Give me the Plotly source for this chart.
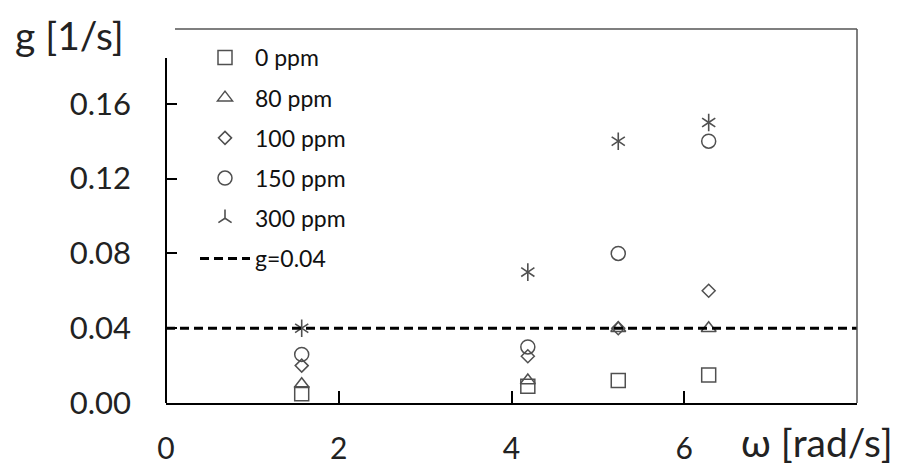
import plotly.graph_objects as go

# ---- data ----
OMEGA = [1.571, 4.189, 5.236, 6.283]          # rad/s
SERIES_NAMES = ["0 ppm", "80 ppm", "100 ppm", "150 ppm", "300 ppm"]
G_0 = [0.005, 0.009, 0.012, 0.015]
G_80 = [0.010, 0.012, 0.040, 0.040]
G_100 = [0.020, 0.025, 0.040, 0.060]
G_150 = [0.026, 0.030, 0.080, 0.140]
G_300 = [0.040, 0.070, 0.140, 0.150]
G_REF = 0.04
REF_NAME = "g=0.04"
X_TICKS = [0, 2, 4, 6]
Y_TICKS = [0.00, 0.04, 0.08, 0.12, 0.16]
Y_TICK_LABELS = ["0.00", "0.04", "0.08", "0.12", "0.16"]

X_RANGE = [0, 8]
Y_RANGE = [0, 0.2]

MCOL = "#505050"
FONT = "Lato"

fig = go.Figure()

styles = [
    ("square-open", 14, G_0),
    ("triangle-up-open", 13, G_80),
    ("diamond-open", 10, G_100),
    ("circle-open", 14, G_150),
]
for name, (sym, size, ys) in zip(SERIES_NAMES[:4], styles):
    fig.add_trace(go.Scatter(
        x=OMEGA, y=ys, mode="markers", name=name, legendgroup=name,
        marker=dict(symbol=sym, size=size, color=MCOL, line=dict(width=1.5, color=MCOL)),
        cliponaxis=False,
    ))

# 300 ppm: six-armed star built from two symbols
fig.add_trace(go.Scatter(
    x=OMEGA, y=G_300, mode="markers", name=SERIES_NAMES[4], legendgroup="300",
    marker=dict(symbol="y-up-open", size=11, color=MCOL, line=dict(width=1.6, color=MCOL)),
    cliponaxis=False,
))
fig.add_trace(go.Scatter(
    x=OMEGA, y=G_300, mode="markers", name=SERIES_NAMES[4], legendgroup="300",
    showlegend=False,
    marker=dict(symbol="y-down-open", size=11, color=MCOL, line=dict(width=1.6, color=MCOL)),
    cliponaxis=False,
))

fig.add_trace(go.Scatter(
    x=X_RANGE, y=[G_REF, G_REF], mode="lines", name=REF_NAME, legendgroup="ref",
    line=dict(color="black", width=3, dash="9px,5px"),
))

# frame pieces
H = 374.0
W = 691.0
fig.add_shape(type="line", xref="paper", yref="paper", x0=0, x1=0, y0=0, y1=(403 - 58) / H,
              line=dict(color="black", width=2))
fig.add_shape(type="line", xref="paper", yref="paper", x0=(175 - 166) / W, x1=1, y0=1, y1=1,
              line=dict(color="#555555", width=1.5))
fig.add_shape(type="line", xref="paper", yref="paper", x0=1, x1=1, y0=0, y1=1,
              line=dict(color="#555555", width=1.5))

fig.add_annotation(text="g [1/s]", xref="paper", yref="paper",
                   x=(13 - 166) / W, y=(403 - 35) / H, xanchor="left", yanchor="middle",
                   showarrow=False, font=dict(family=FONT, size=39, color="#222"))
fig.add_annotation(text="ω [rad/s]", xref="paper", yref="paper",
                   x=(895 - 166) / W, y=(403 - 442) / H, xanchor="right", yanchor="middle",
                   showarrow=False, font=dict(family=FONT, size=39, color="#222"))

fig.update_layout(
    width=901, height=469,
    margin=dict(l=166, r=44, t=29, b=66, autoexpand=False),
    paper_bgcolor="white", plot_bgcolor="white",
    font=dict(family=FONT, color="#222"),
    showlegend=True,
    legend=dict(
        x=(195 - 166) / W, y=(403 - 36) / H, xanchor="left", yanchor="top",
        traceorder="grouped", tracegroupgap=7.3, itemwidth=50,
        font=dict(family=FONT, size=23, color="#111"),
        bgcolor="rgba(0,0,0,0)",
    ),
    xaxis=dict(
        range=X_RANGE, tickvals=X_TICKS, ticktext=[str(v) for v in X_TICKS],
        ticks="inside", ticklen=12, tickwidth=1.5, tickcolor="black",
        showline=True, linecolor="black", linewidth=2, mirror=False,
        showgrid=False, zeroline=False, automargin=False,
        tickfont=dict(family=FONT, size=30, color="#222"),
        ticklabelstandoff=18,
    ),
    yaxis=dict(
        range=Y_RANGE, tickvals=Y_TICKS, ticktext=Y_TICK_LABELS,
        ticks="inside", ticklen=11, tickwidth=1.5, tickcolor="black",
        showline=False, showgrid=False, zeroline=False, automargin=False,
        tickfont=dict(family=FONT, size=31, color="#222"),
        ticklabelstandoff=34,
    ),
)

fig.write_html("out.html")
